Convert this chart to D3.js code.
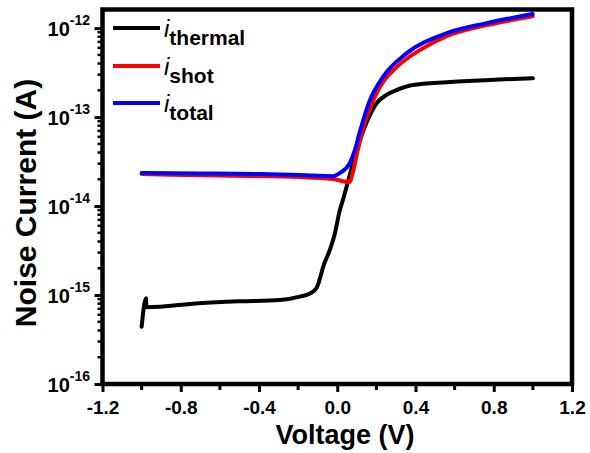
<!DOCTYPE html>
<html>
<head>
<meta charset="utf-8">
<script src="https://cdn.jsdelivr.net/npm/d3@7"></script>
<style>
  body { margin: 0; background: #fff; }
  svg { display: block; font-family: "Liberation Sans", Arial, sans-serif; }
</style>
</head>
<body>
<svg id="chart" width="590" height="453" viewBox="0 0 590 453"></svg>
<script>
// values (voltage in V, noise current in A)
const thermalV = [-1.0, -0.978, -0.975, -0.706, -0.5, -0.294, -0.191, -0.14, -0.106, -0.09, -0.072, -0.038, -0.012, 0.013, 0.029, 0.075, 0.1, 0.151, 0.202, 0.25, 0.303, 0.386, 0.56, 0.8, 1.0]
const thermalI = [4.4e-16, 9.2e-16, 7.3e-16, 8.1e-16, 8.5e-16, 8.8e-16, 9.6e-16, 1.04e-15, 1.2e-15, 1.5e-15, 2.08e-15, 3.21e-15, 4.93e-15, 9.0e-15, 1.17e-14, 2.74e-14, 4.26e-14, 8.8e-14, 1.44e-13, 1.77e-13, 2.01e-13, 2.29e-13, 2.47e-13, 2.63e-13, 2.74e-13]

const shotV = [-1.0, -0.6, -0.191, -0.022, 0.064, 0.079, 0.105, 0.13, 0.151, 0.217, 0.304, 0.422, 0.56, 0.765, 0.999]
const shotI = [2.29e-14, 2.2e-14, 2.12e-14, 2.01e-14, 1.86e-14, 2.35e-14, 4.26e-14, 7.14e-14, 1.0e-13, 2.17e-13, 3.65e-13, 5.66e-13, 8.13e-13, 1.08e-12, 1.36e-12]

const totalV = [-1.0, -0.703, -0.396, -0.191, -0.022, 0.013, 0.064, 0.09, 0.115, 0.167, 0.233, 0.356, 0.56, 0.765, 0.999]
const totalI = [2.35e-14, 2.33e-14, 2.29e-14, 2.23e-14, 2.17e-14, 2.35e-14, 3.04e-14, 4.26e-14, 6.78e-14, 1.55e-13, 2.81e-13, 5.24e-13, 8.79e-13, 1.14e-12, 1.44e-12]

const seriesNames = ["thermal", "shot", "total"]
const seriesColors = ["#000000", "#ff0000", "#0000ff"]

const xTicks = [-1.2, -0.8, -0.4, 0.0, 0.4, 0.8, 1.2]
const xMinor = [-1.0, -0.6, -0.2, 0.2, 0.6, 1.0]
const yExponents = [-16, -15, -14, -13, -12]

const svg = d3.select("#chart")
const plotLeft = 102.5, plotRight = 572, plotTop = 9.5, plotBottom = 384

const x = d3.scaleLinear().domain([-1.2, 1.2]).range([plotLeft, plotRight])
const y = d3.scaleLog().domain([1e-16, 1.62e-12]).range([plotBottom, plotTop])

// minor y ticks: 2..9 of each decade
let yMinor = []
yExponents.forEach(e => {
    for (let m = 2; m <= 9; m++) {
        let v = m * Math.pow(10, e)
        if (v < y.domain()[1]) yMinor.push(v)
    }
})

// x axis
const xAxis = svg.append("g")
    .attr("transform", `translate(0,${plotBottom})`)
    .call(d3.axisBottom(x).tickValues(xTicks).tickSize(8).tickPadding(9)
        .tickFormat(d3.format(".1f")))
xAxis.select(".domain").remove()
xAxis.selectAll("line").attr("stroke-width", 3)
xAxis.selectAll("text").attr("font-size", 19).attr("font-weight", "bold")
    .attr("font-family", '"Liberation Sans", Arial, sans-serif')
    .text(d => d3.format(".1f")(d).replace("−", "-"))

svg.append("g")
    .selectAll("line")
    .data(xMinor)
    .enter()
    .append("line")
    .attr("x1", d => x(d)).attr("x2", d => x(d))
    .attr("y1", plotBottom).attr("y2", plotBottom + 6)
    .attr("stroke", "#000").attr("stroke-width", 3)

// y axis
const yAxis = svg.append("g")
    .attr("transform", `translate(${plotLeft},0)`)
    .call(d3.axisLeft(y).tickValues(yExponents.map(e => Math.pow(10, e))).tickSize(8).tickFormat(""))
yAxis.select(".domain").remove()
yAxis.selectAll("line").attr("stroke-width", 3)

svg.append("g")
    .selectAll("line")
    .data(yMinor)
    .enter()
    .append("line")
    .attr("x1", plotLeft).attr("x2", plotLeft - 5)
    .attr("y1", d => y(d)).attr("y2", d => y(d))
    .attr("stroke", "#000").attr("stroke-width", 2.5)

const yLabels = svg.append("g")
    .selectAll("text")
    .data(yExponents)
    .enter()
    .append("text")
    .attr("x", 90)
    .attr("y", d => y(Math.pow(10, d)) + 8)
    .attr("text-anchor", "end")
    .attr("font-weight", "bold")
yLabels.append("tspan").attr("font-size", 20).text("10")
yLabels.append("tspan").attr("font-size", 14).attr("dy", -11).text(d => "-" + Math.abs(d))

// frame
svg.append("rect")
    .attr("x", plotLeft).attr("y", plotTop)
    .attr("width", plotRight - plotLeft).attr("height", plotBottom - plotTop)
    .attr("fill", "none").attr("stroke", "#000").attr("stroke-width", 4.5)

// curves
const line = d3.line()
    .x(d => x(d[0]))
    .y(d => y(d[1]))
    .curve(d3.curveMonotoneX)

const seriesData = [
    d3.zip(thermalV, thermalI),
    d3.zip(shotV, shotI),
    d3.zip(totalV, totalI)
]

svg.append("g")
    .selectAll("path")
    .data(seriesData)
    .enter()
    .append("path")
    .attr("d", line)
    .attr("fill", "none")
    .attr("stroke", (d, i) => seriesColors[i])
    .attr("stroke-width", 4)
    .attr("stroke-linejoin", "round")
    .attr("stroke-linecap", "round")

// legend
const legendY = [28, 66, 103]
const legend = svg.append("g")
    .selectAll("g")
    .data(seriesNames)
    .enter()
    .append("g")
    .attr("transform", (d, i) => `translate(113,${legendY[i]})`)

legend.append("line")
    .attr("x1", 0).attr("x2", 47)
    .attr("stroke", (d, i) => seriesColors[i])
    .attr("stroke-width", 4)

const legendText = legend.append("text")
    .attr("x", 51)
    .attr("y", 9)
legendText.append("tspan")
    .attr("font-size", 24)
    .attr("font-style", "italic")
    .text("i")
legendText.append("tspan")
    .attr("font-size", 21)
    .attr("font-weight", "bold")
    .attr("dy", 8)
    .text(d => d)

// axis titles
svg.append("text")
    .attr("x", 345).attr("y", 444)
    .attr("text-anchor", "middle")
    .attr("font-size", 27)
    .attr("font-weight", "bold")
    .text("Voltage (V)")

svg.append("text")
    .attr("transform", "translate(36,203) rotate(-90)")
    .attr("text-anchor", "middle")
    .attr("font-size", 30)
    .attr("font-weight", "bold")
    .text("Noise Current (A)")
</script>
</body>
</html>
